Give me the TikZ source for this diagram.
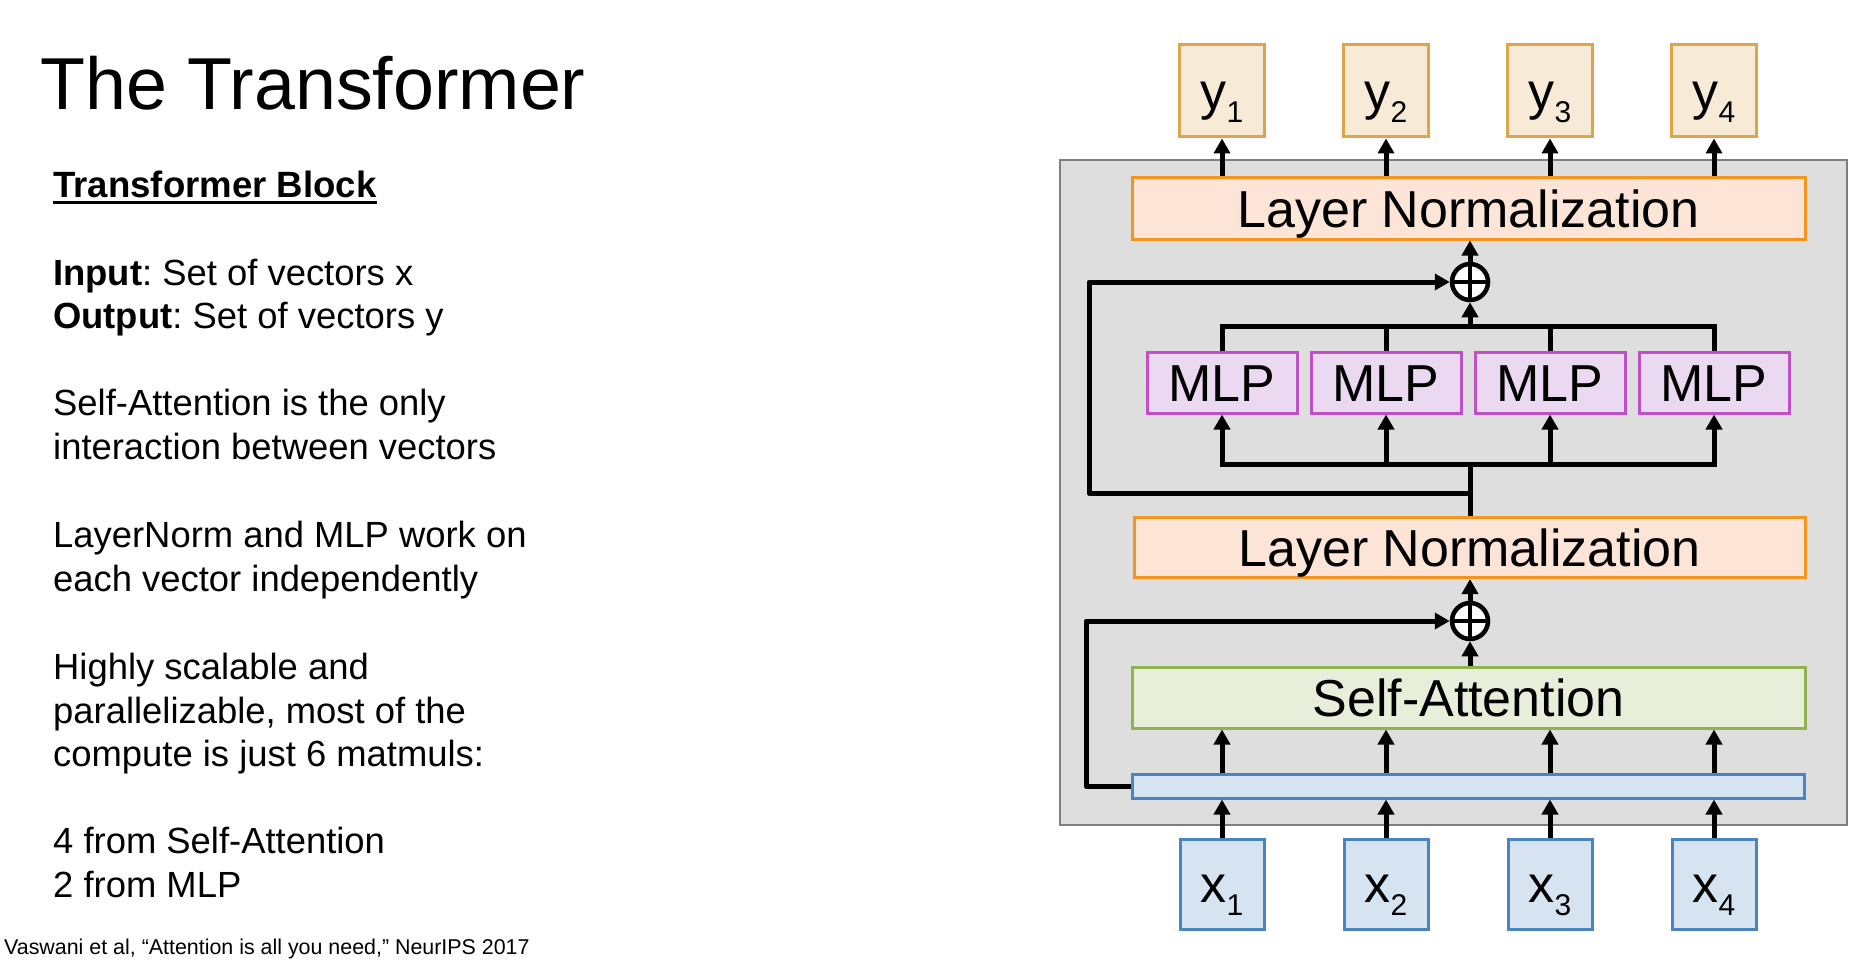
\documentclass[tikz,border=0pt]{standalone}
\usepackage{fontspec}
\setmainfont{Liberation Sans}
\usetikzlibrary{arrows.meta}
\frenchspacing
\definecolor{grayF}{HTML}{DEDEDE}
\definecolor{grayB}{HTML}{7F7F7F}
\definecolor{yF}{HTML}{F7EBD8}
\definecolor{yB}{HTML}{DFA54A}
\definecolor{lnF}{HTML}{FCE4D6}
\definecolor{lnB}{HTML}{F7941D}
\definecolor{mlpF}{HTML}{EAD9F0}
\definecolor{mlpB}{HTML}{C04FC8}
\definecolor{saF}{HTML}{E7EFDA}
\definecolor{saB}{HTML}{91B251}
\definecolor{xF}{HTML}{D6E4F2}
\definecolor{xB}{HTML}{4A85C0}
\newcommand{\mysub}[1]{{\fontsize{30}{30}\selectfont\raisebox{-13pt}{#1}}}
\begin{document}
\begin{tikzpicture}[x=1pt,y=-1pt,
  boxst/.style={draw, line width=3pt, inner sep=0pt, anchor=center},
  big/.style={font=\fontsize{52}{60}\selectfont, text height=37pt, text depth=0pt},
  ybox/.style={boxst, big, draw=yB, fill=yF, minimum width=85pt, minimum height=92pt},
  xbox/.style={boxst, big, draw=xB, fill=xF, minimum width=84pt, minimum height=90pt},
  lnbox/.style={boxst, big, draw=lnB, fill=lnF, minimum height=61pt},
  mlpbox/.style={boxst, big, draw=mlpB, fill=mlpF, minimum width=150pt, minimum height=61pt},
  plusnode/.style={circle, draw=black, fill=white, line width=4.5pt, minimum size=36pt, inner sep=0pt},
  ln/.style={line width=5pt, draw=black},
  arr/.style={ln, -{Triangle[length=15pt,width=16pt]}},
  body/.style={anchor=base west, inner sep=0pt, font=\fontsize{36.4}{44}\selectfont}]
\useasboundingbox (0,0) rectangle (1862,960);
\path[fill=white] (0,0) rectangle (1862,960);

% left text
\node[anchor=base west, inner sep=0pt, font=\fontsize{73.6}{80}\selectfont] (title) at (40,110) {The Transformer};
\node[body, font=\bfseries\fontsize{36.6}{44}\selectfont] (hb) at (53,197) {Transformer Block};
\draw[line width=3pt] ([yshift=-5.5pt]hb.base west) -- ([yshift=-5.5pt]hb.base east);
\node[body] (l1) at (53,285) {\textbf{Input}: Set of vectors x};
\node[body] (l2) at (53,328) {\textbf{Output}: Set of vectors y};
\node[body] (l3) at (53,415.6) {Self-Attention is the only};
\node[body] (l4) at (53,459.6) {interaction between vectors};
\node[body] (l5) at (53,547.4) {LayerNorm and MLP work on};
\node[body] (l6) at (53,591.4) {each vector independently};
\node[body] (l7) at (53,679) {Highly scalable and};
\node[body] (l8) at (53,723) {parallelizable, most of the};
\node[body] (l9) at (53,766) {compute is just 6 matmuls:};
\node[body] (l10) at (53,853.8) {4 from Self-Attention};
\node[body] (l11) at (53,897.8) {2 from MLP};
\node[anchor=base west, inner sep=0pt, font=\fontsize{21.4}{24}\selectfont] (ref) at (4,954) {Vaswani et al, “Attention is all you need,” NeurIPS 2017};

% block background
\node[draw=grayB, fill=grayF, line width=2.5pt, inner sep=0pt, minimum width=787pt, minimum height=665pt] (blk) at (1453.5,492.5) {};

% boxes
\foreach \i/\cx in {1/1222,2/1386,3/1550,4/1714}{
  \node[ybox] (y\i) at (\cx,91) {y\mysub{\i}};
  \node[xbox] (x\i) at (\cx,884) {x\mysub{\i}};
  \node[mlpbox] (m\i) at (\cx,382.5) {MLP};
}
\node[lnbox, minimum width=673pt] (ln1) at (1468.5,208.5) {Layer Normalization};
\node[lnbox, minimum width=671pt, minimum height=60pt] (ln2) at (1469.5,547.5) {Layer Normalization};
\node[boxst, big, draw=saB, fill=saF, minimum width=673pt, minimum height=61pt] (sa) at (1468.5,697.5) {Self-Attention};
\node[boxst, draw=xB, fill=xF, minimum width=672pt, minimum height=24pt] (bar) at (1468,786) {};

\node[plusnode] (p1) at (1470,282) {};
\draw[line width=4.5pt] (p1.north) -- (p1.south) (p1.west) -- (p1.east);
\node[plusnode] (p2) at (1470,621) {};
\draw[line width=4.5pt] (p2.north) -- (p2.south) (p2.west) -- (p2.east);

\coordinate (busT) at (1470,326.5);
\coordinate (busB) at (1470,464.5);
\coordinate (skT) at (1470,493);
\coordinate (skTx) at (1089,0);
\coordinate (skBx) at (1086,0);

% connectors
\foreach \i in {1,2,3,4}{
  \draw[arr] (x\i.north) -- (x\i.north |- bar.south);
  \draw[arr] (bar.north -| x\i.north) -- (sa.south -| x\i.north);
  \draw[arr] (ln1.north -| y\i.south) -- (y\i.south);
  \draw[arr] (busB -| m\i.south) -- (m\i.south);
  \draw[ln] (m\i.north) -- (m\i.north |- busT);
}
\draw[ln, line cap=rect] (busT -| m1.north) -- (busT -| m4.north);
\draw[ln, line cap=rect] (busB -| m1.south) -- (busB -| m4.south);
\draw[arr] (busT) -- (p1.south);
\draw[arr] (p1.north) -- (ln1.south -| p1.north);
\draw[ln] (ln2.north -| busB) -- (busB);
\draw[arr, line join=round] (skT) -| (skTx |- p1.west) -- (p1.west);
\draw[arr] (sa.north -| p2.south) -- (p2.south);
\draw[arr] (p2.north) -- (ln2.south -| p2.north);
\draw[arr, line join=round] (bar.west) -| (skBx |- p2.west) -- (p2.west);
\end{tikzpicture}
\end{document}
